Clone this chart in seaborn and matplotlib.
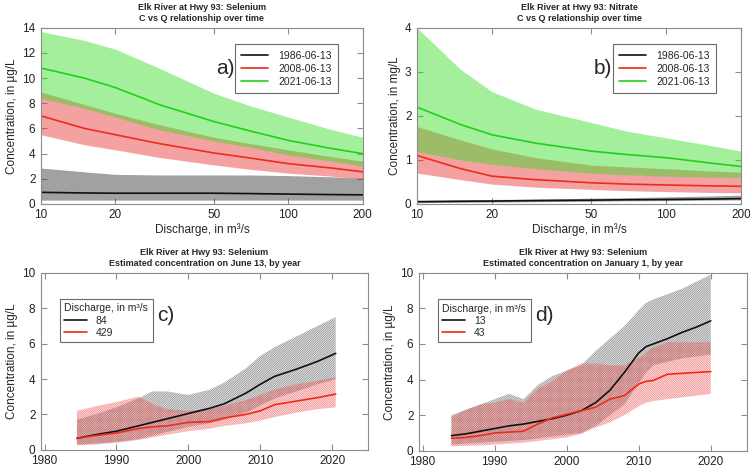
import matplotlib
matplotlib.use("Agg")
import matplotlib.pyplot as plt
from matplotlib.ticker import FixedLocator, FixedFormatter, NullLocator
import seaborn as sns

# ---- panel a: selenium C vs Q (log discharge) ----
q = [10, 15, 20, 30, 50, 70, 100, 150, 200]
se_1986 = [0.92, 0.87, 0.85, 0.85, 0.85, 0.82, 0.78, 0.74, 0.72]
se_1986_lo = [0.3, 0.3, 0.3, 0.3, 0.3, 0.3, 0.3, 0.3, 0.3]
se_1986_hi = [2.85, 2.55, 2.35, 2.3, 2.3, 2.3, 2.25, 2.15, 2.05]
se_2008 = [7.0, 6.0, 5.5, 4.8, 4.05, 3.65, 3.2, 2.85, 2.55]
se_2008_lo = [5.5, 4.7, 4.3, 3.7, 3.1, 2.75, 2.45, 2.2, 2.0]
se_2008_hi = [8.9, 7.9, 7.2, 6.3, 5.3, 4.8, 4.3, 3.75, 3.4]
se_2021 = [10.8, 10.0, 9.25, 7.9, 6.55, 5.8, 5.05, 4.4, 4.0]
se_2021_lo = [8.4, 7.6, 6.9, 5.9, 5.0, 4.5, 3.9, 3.4, 3.0]
se_2021_hi = [13.7, 13.0, 12.3, 10.8, 8.8, 7.8, 6.9, 5.9, 5.3]

# ---- panel b: nitrate C vs Q ----
no_1986 = [0.05, 0.06, 0.065, 0.075, 0.085, 0.095, 0.1, 0.11, 0.12]
no_1986_lo = [0.03, 0.035, 0.04, 0.05, 0.06, 0.07, 0.075, 0.085, 0.09]
no_1986_hi = [0.08, 0.09, 0.1, 0.11, 0.13, 0.14, 0.16, 0.18, 0.2]
no_2008 = [1.1, 0.8, 0.63, 0.55, 0.48, 0.45, 0.43, 0.41, 0.4]
no_2008_lo = [0.7, 0.55, 0.45, 0.38, 0.33, 0.3, 0.28, 0.26, 0.25]
no_2008_hi = [1.76, 1.45, 1.25, 1.05, 0.88, 0.84, 0.8, 0.75, 0.72]
no_2021 = [2.2, 1.8, 1.57, 1.38, 1.2, 1.12, 1.05, 0.93, 0.85]
no_2021_lo = [1.19, 1.0, 0.9, 0.8, 0.7, 0.66, 0.63, 0.61, 0.6]
no_2021_hi = [4.0, 3.05, 2.55, 2.15, 1.85, 1.65, 1.5, 1.33, 1.2]

dates = ["1986-06-13", "2008-06-13", "2021-06-13"]

# ---- panel c: June 13 by year ----
yr_c = [1984.5, 1987, 1990, 1993, 1995, 1997, 2000, 2003, 2005, 2008, 2010, 2012, 2015, 2018, 2020.5]
c_84 = [0.65, 0.85, 1.05, 1.35, 1.55, 1.75, 2.05, 2.35, 2.6, 3.2, 3.7, 4.15, 4.55, 5.0, 5.45]
c_84_lo = [0.3, 0.35, 0.45, 0.6, 0.8, 1.0, 1.3, 1.5, 1.7, 2.1, 2.5, 2.9, 3.3, 3.7, 4.0]
c_84_hi = [1.7, 2.0, 2.4, 2.9, 3.3, 3.3, 3.1, 3.4, 3.8, 4.6, 5.3, 5.8, 6.4, 7.0, 7.5]
c_429 = [0.65, 0.8, 0.95, 1.2, 1.3, 1.35, 1.55, 1.6, 1.8, 2.0, 2.2, 2.55, 2.75, 2.95, 3.15]
c_429_lo = [0.25, 0.3, 0.4, 0.55, 0.7, 0.85, 1.05, 1.2, 1.35, 1.5, 1.65, 1.85, 2.1, 2.3, 2.4]
c_429_hi = [2.2, 2.45, 2.7, 3.0, 2.6, 2.3, 2.2, 2.3, 2.5, 2.8, 3.1, 3.4, 3.7, 3.9, 4.1]

# ---- panel d: January 1 by year ----
yr_d = [1984, 1986, 1988, 1990, 1992, 1994, 1996, 1998, 2000, 2002, 2004, 2006, 2008, 2010, 2011, 2012, 2014, 2016, 2018, 2020]
d_13 = [0.85, 0.95, 1.1, 1.25, 1.4, 1.5, 1.65, 1.8, 2.0, 2.25, 2.7, 3.4, 4.4, 5.5, 5.85, 6.0, 6.3, 6.65, 6.95, 7.3]
d_13_lo = [0.35, 0.4, 0.45, 0.5, 0.55, 0.6, 0.7, 0.8, 0.9, 1.0, 1.4, 2.0, 2.6, 3.8, 4.4, 4.8, 5.0, 5.2, 5.3, 5.4]
d_13_hi = [2.0, 2.3, 2.6, 2.9, 3.2, 2.9, 3.7, 4.2, 4.5, 4.8, 5.6, 6.3, 7.0, 7.9, 8.3, 8.5, 8.8, 9.1, 9.5, 9.9]
d_43 = [0.7, 0.75, 0.85, 1.0, 1.05, 1.1, 1.5, 1.85, 2.05, 2.25, 2.45, 2.9, 3.1, 3.75, 3.9, 3.95, 4.3, 4.35, 4.4, 4.45]
d_43_lo = [0.25, 0.28, 0.3, 0.35, 0.4, 0.45, 0.55, 0.65, 0.75, 0.95, 1.3, 1.6, 2.0, 2.5, 2.7, 2.8, 2.9, 3.0, 3.1, 3.2]
d_43_hi = [1.9, 2.3, 2.6, 2.7, 2.9, 2.7, 3.5, 3.9, 4.5, 4.9, 4.9, 4.8, 4.8, 5.2, 5.5, 5.8, 6.1, 6.1, 6.1, 6.1]

sns.set_style("ticks")
plt.rcParams['font.family'] = ['Liberation Sans', 'DejaVu Sans']
plt.rcParams['hatch.linewidth'] = 0.5

BLACK = '#111111'
RED = '#ee2b1c'
GREEN = '#22d01c'
GRID = '#8c8c8c'

fig = plt.figure(figsize=(7.5, 4.72), dpi=100)
ax_a = fig.add_axes([0.0547, 0.568, 0.429, 0.373])
ax_b = fig.add_axes([0.556, 0.568, 0.432, 0.373])
ax_c = fig.add_axes([0.0547, 0.047, 0.436, 0.375])
ax_d = fig.add_axes([0.5587, 0.045, 0.437, 0.377])


def style_axes(ax):
    for s in ax.spines.values():
        s.set_color(GRID)
        s.set_linewidth(0.8)
    ax.tick_params(direction='in', top=True, right=True, length=4, width=0.8,
                   color=GRID, labelsize=8.5, labelcolor='#222222', pad=4)


def cq_panel(ax, series, ymax, ylabel, title, tag):
    ax.set_xscale('log')
    cols = [BLACK, RED, GREEN]
    fills = [('#444444', 0.5), ('#e83030', 0.45), ('#33dd22', 0.45)]
    for (mid, lo, hi), col, (fc, al), lab in zip(series, cols, fills, dates):
        ax.fill_between(q, lo, hi, color=fc, alpha=al, linewidth=0)
        sns.lineplot(x=q, y=mid, ax=ax, color=col, linewidth=1.2, label=lab)
    ax.set_xlim(10, 200)
    ax.set_ylim(0, ymax)
    ax.xaxis.set_major_locator(FixedLocator([10, 20, 50, 100, 200]))
    ax.xaxis.set_major_formatter(FixedFormatter(['10', '20', '50', '100', '200']))
    ax.xaxis.set_minor_locator(NullLocator())
    ax.set_xlabel('Discharge, in m³/s', fontsize=8.5, labelpad=1)
    ax.set_ylabel(ylabel, fontsize=8.5, labelpad=3)
    ax.set_title(title, fontsize=6.5, fontweight='bold', pad=5, linespacing=1.25)
    style_axes(ax)
    leg = ax.legend(loc='upper right', bbox_to_anchor=(0.94, 0.935), fontsize=7.5,
                    handlelength=2.6, frameon=True, fancybox=False,
                    borderpad=0.6, labelspacing=0.3, handletextpad=1.0)
    leg.get_frame().set_edgecolor('#444444')
    leg.get_frame().set_linewidth(0.8)
    ax.text(0.545, 0.77, tag, transform=ax.transAxes, fontsize=15, va='center')


def year_panel(ax, x, series, labels, title, tag):
    hatch_cols = [(0.35, 0.35, 0.35, 0.7), (0.92, 0.3, 0.3, 0.65)]
    hatches = ['/' * 15, '\\' * 15]
    tints = [(0.5, 0.5, 0.5, 0.12), (0.95, 0.4, 0.4, 0.15)]
    line_cols = [BLACK, RED]
    for (mid, lo, hi), hc, ht, tc, lc, lab in zip(series, hatch_cols, hatches, tints, line_cols, labels):
        ax.fill_between(x, lo, hi, facecolor=tc, edgecolor=hc, hatch=ht, linewidth=0)
        sns.lineplot(x=x, y=mid, ax=ax, color=lc, linewidth=1.2, label=lab)
    ax.set_xlim(1979.5, 2025)
    ax.set_ylim(0, 10)
    ax.set_xticks([1980, 1990, 2000, 2010, 2020])
    ax.set_yticks([0, 2, 4, 6, 8, 10])
    ax.set_xlabel('')
    ax.set_ylabel('Concentration, in µg/L', fontsize=8.5, labelpad=3)
    ax.set_title(title, fontsize=6.5, fontweight='bold', pad=5, linespacing=1.25)
    style_axes(ax)
    leg = ax.legend(loc='upper left', bbox_to_anchor=(0.043, 0.88), fontsize=7.5,
                    title='Discharge, in m³/s', title_fontsize=7.5, handlelength=2.2,
                    frameon=True, fancybox=False, borderpad=0.4, labelspacing=0.2,
                    alignment='left')
    leg.get_frame().set_edgecolor('#444444')
    leg.get_frame().set_linewidth(0.8)
    ax.text(0.355, 0.76, tag, transform=ax.transAxes, fontsize=15, va='center')


cq_panel(ax_a,
         [(se_1986, se_1986_lo, se_1986_hi), (se_2008, se_2008_lo, se_2008_hi),
          (se_2021, se_2021_lo, se_2021_hi)],
         14, 'Concentration, in µg/L',
         'Elk River at Hwy 93: Selenium\nC vs Q relationship over time', 'a)')
ax_a.set_yticks(range(0, 15, 2))

cq_panel(ax_b,
         [(no_1986, no_1986_lo, no_1986_hi), (no_2008, no_2008_lo, no_2008_hi),
          (no_2021, no_2021_lo, no_2021_hi)],
         4, 'Concentration, in mg/L',
         'Elk River at Hwy 93: Nitrate\nC vs Q relationship over time', 'b)')
ax_b.set_yticks(range(0, 5))

year_panel(ax_c, yr_c, [(c_84, c_84_lo, c_84_hi), (c_429, c_429_lo, c_429_hi)],
           ['84', '429'],
           'Elk River at Hwy 93: Selenium\nEstimated concentration on June 13, by year', 'c)')
year_panel(ax_d, yr_d, [(d_13, d_13_lo, d_13_hi), (d_43, d_43_lo, d_43_hi)],
           ['13', '43'],
           'Elk River at Hwy 93: Selenium\nEstimated concentration on January 1, by year', 'd)')

fig.savefig('out.png', dpi=100)
